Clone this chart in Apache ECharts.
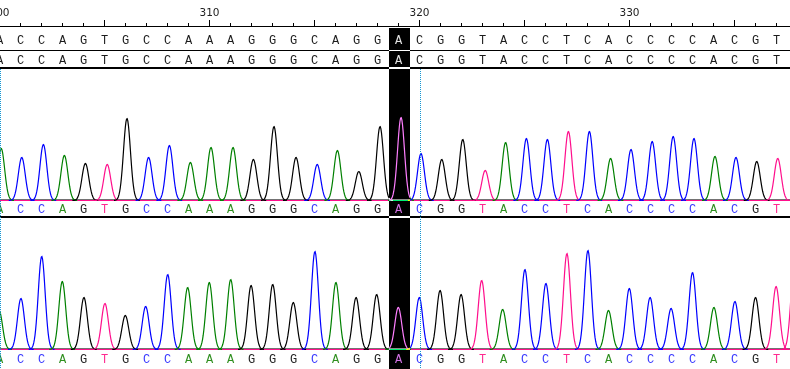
<!DOCTYPE html>
<html>
<head>
<meta charset="utf-8">
<script src="https://cdn.jsdelivr.net/npm/echarts@6/dist/echarts.min.js"></script>
<style>
html,body{margin:0;padding:0;background:#ffffff;}
#chart{width:790px;height:369px;}
</style>
</head>
<body>
<div id="chart"></div>
<script>
// ---------------- DATA ----------------
const basePositions = [300,301,302,303,304,305,306,307,308,309,310,311,312,313,314,315,316,317,318,319,320,321,322,323,324,325,326,327,328,329,330,331,332,333,334,335,336,337,338];
const bases = ['A','C','C','A','G','T','G','C','C','A','A','A','G','G','G','C','A','G','G','A','C','G','G','T','A','C','C','T','C','A','C','C','C','C','A','C','G','T','T'];

// upper trace (peak centre in base units, peak height)
const peakPos1 = [300.08,301.06,302.09,303.09,304.09,305.13,306.07,307.10,308.09,309.09,310.07,311.12,312.09,313.07,314.12,315.13,316.09,317.11,318.12,319.12,320.07,321.06,322.06,323.13,324.10,325.09,326.09,327.09,328.09,329.10,330.07,331.08,332.08,333.07,334.07,335.07,336.06,337.06,338.06];
const peakHeight1 = [52,43,56,45,37,36,82,43,55,38,53,53,41,74,43,36,50,29,74,83,47,41,61,30,58,62,61,69,69,42,51,59,64,62,44,43,39,42,0];

// lower trace
const peakPos2 = [299.98,301.02,302.01,302.99,304.02,305.02,305.99,306.96,308.01,308.96,309.99,311.01,311.98,313.01,313.99,315.02,316.02,316.98,317.96,318.99,319.99,320.98,321.98,322.96,323.96,325.02,326.02,327.02,328.02,329.00,329.99,330.98,331.98,333.00,334.02,335.02,336.00,336.98,337.85];
const peakHeight2 = [39,51,93,68,52,46,34,43,75,62,67,70,64,65,47,98,67,52,55,42,52,59,55,69,40,80,66,96,99,39,61,52,41,77,42,48,52,63,85];

const highlightPositions = [319];
const cursorPositions = [300, 320];

// ---------------- STYLE ----------------
const traceColor = {A:'#008000', C:'#0000ff', G:'#000000', T:'#ff0f8c'};
const letterColor = {A:'#2f8f1f', C:'#3a3aff', G:'#222222', T:'#ff2a90'};
const topLetterColor = '#1c1c1c';
const SIG = 0.165;
const LETTER_FONT = '12px "Liberation Mono"';
const ROW_Y = [40.5, 60.5, 210, 360];
const COL_TOP = 28, COL_BOTTOM = 369;
const H_LINES = [[50,1],[67,2],[216,2]];

function invert(hex) {
  const n = parseInt(hex.slice(1), 16);
  const r = 255 - ((n >> 16) & 255), g = 255 - ((n >> 8) & 255), b = 255 - (n & 255);
  return 'rgb(' + r + ',' + g + ',' + b + ')';
}

const chart = echarts.init(document.getElementById('chart'), null, {renderer:'canvas', width:790, height:369});

const gridBase = {left:-0.5, width:798, containLabel:false, outerBoundsMode:'none'};

function colBounds(api) {
  const p = highlightPositions[0];
  return [api.coord([p - 0.5, 0])[0] + 1, api.coord([p + 0.5, 0])[0] + 1];
}

function peakPoints(api, p, h) {
  const pts = [];
  for (let t = -0.62; t <= 0.6201; t += 0.03) {
    const v = h * Math.exp(-0.5 * (t / SIG) * (t / SIG));
    pts.push(api.coord([p + t, v]));
  }
  return pts;
}

function peakRender(params, api) {
  const i = params.dataIndex;
  const p = api.value(0), h = api.value(1);
  if (!(h > 0)) return null;
  return {
    type:'polyline',
    shape:{points:peakPoints(api, p, h)},
    style:{stroke: traceColor[bases[i]], lineWidth:1.2, fill:null}
  };
}

function invertedPeakRender(params, api) {
  const i = params.dataIndex;
  const p = api.value(0), h = api.value(1);
  if (!(h > 0)) return null;
  const cb = colBounds(api);
  const pts = peakPoints(api, p, h).filter(function(pt){ return pt[0] >= cb[0] - 0.3 && pt[0] <= cb[1] + 0.3; });
  if (pts.length < 2) return null;
  return {
    type:'polyline',
    shape:{points:pts},
    style:{stroke: invert(traceColor[bases[i]]), lineWidth:1.2, fill:null}
  };
}

function baselineRender(params, api) {
  const a0 = api.coord([299, 1]), a1 = api.coord([339, 1]);
  const b0 = api.coord([299, 0]), b1 = api.coord([339, 0]);
  return {
    type:'group',
    children:[
      {type:'line', shape:{x1:a0[0], y1:a0[1], x2:a1[0], y2:a1[1]}, style:{stroke:'#000000', lineWidth:1, opacity:0.55}},
      {type:'line', shape:{x1:b0[0], y1:b0[1], x2:b1[0], y2:b1[1]}, style:{stroke:traceColor.T, lineWidth:1}}
    ]
  };
}

function invertedBaselineRender(params, api) {
  const cb = colBounds(api);
  const ya = api.coord([300, 1])[1], yb = api.coord([300, 0])[1];
  return {
    type:'group',
    children:[
      {type:'line', z2:1, shape:{x1:cb[0], y1:ya, x2:cb[1], y2:ya}, style:{stroke:'#ffffff', lineWidth:1, opacity:0.55}},
      {type:'line', z2:2, shape:{x1:cb[0], y1:yb, x2:cb[1], y2:yb}, style:{stroke:invert(traceColor.T), lineWidth:1}}
    ]
  };
}

function letterEls(x, b, inv) {
  const cols = [topLetterColor, topLetterColor, letterColor[b], letterColor[b]];
  return ROW_Y.map(function(y, k){
    return {type:'text', z2:5, x:x, y:y, style:{text:b, fill: inv ? invert(cols[k]) : cols[k], font:LETTER_FONT, align:'center', verticalAlign:'middle'}};
  });
}

const option = {
  backgroundColor:'#ffffff',
  animation:false,
  grid:[
    Object.assign({top:26, height:343}, gridBase),
    Object.assign({top:69, height:131.5}, gridBase),
    Object.assign({top:219, height:130.5}, gridBase)
  ],
  xAxis:[
    {
      gridIndex:0, type:'value', position:'top', min:300, max:338, interval:5,
      axisLine:{show:true, lineStyle:{color:'#000000', width:1}},
      axisTick:{show:true, length:6, lineStyle:{color:'#000000', width:1}},
      minorTick:{show:true, splitNumber:5, length:3, lineStyle:{color:'#000000', width:1}},
      axisLabel:{show:true, margin:7, color:'#222222', fontFamily:'DejaVu Sans', fontSize:10.5,
        showMinLabel:true, showMaxLabel:false, hideOverlap:false,
        formatter:function(v){ return (Math.round(v) % 10 === 0) ? String(Math.round(v)) : ''; }},
      splitLine:{show:false}, minorSplitLine:{show:false}
    },
    {gridIndex:1, type:'value', min:300, max:338, show:false, splitLine:{show:false}},
    {gridIndex:2, type:'value', min:300, max:338, show:false, splitLine:{show:false}}
  ],
  yAxis:[
    {gridIndex:0, type:'value', min:0, max:343, inverse:true, show:false, splitLine:{show:false}},
    {gridIndex:1, type:'value', min:0, max:131.5, show:false, splitLine:{show:false}},
    {gridIndex:2, type:'value', min:0, max:130.5, show:false, splitLine:{show:false}}
  ],
  graphic:H_LINES.map(function(l){
    return {type:'rect', z:1, shape:{x:0, y:l[0], width:790, height:l[1]}, style:{fill:'#000000'}};
  }),
  series:[
    // base letters (two rows on top + one under each trace)
    {
      type:'custom', xAxisIndex:0, yAxisIndex:0, z:3, silent:true,
      data: basePositions.map(function(p){ return [p, 0]; }),
      renderItem:function(params, api){
        const b = bases[params.dataIndex];
        const x = api.coord([api.value(0), 0])[0];
        return {type:'group', children:letterEls(x, b, false)};
      }
    },
    // baselines
    {type:'custom', xAxisIndex:1, yAxisIndex:1, z:3, silent:true, data:[[0,0]], renderItem:baselineRender},
    {type:'custom', xAxisIndex:2, yAxisIndex:2, z:3, silent:true, data:[[0,0]], renderItem:baselineRender},
    // traces
    {
      type:'custom', xAxisIndex:1, yAxisIndex:1, z:4, silent:true, clip:false,
      data: peakPos1.map(function(p, i){ return [p, peakHeight1[i]]; }),
      renderItem: peakRender
    },
    {
      type:'custom', xAxisIndex:2, yAxisIndex:2, z:4, silent:true, clip:false,
      data: peakPos2.map(function(p, i){ return [p, peakHeight2[i]]; }),
      renderItem: peakRender
    },
    // cursor dotted lines
    {
      type:'custom', xAxisIndex:0, yAxisIndex:0, z:5, silent:true,
      data: cursorPositions.map(function(p){ return [p, 0]; }),
      renderItem:function(params, api){
        const x = api.coord([api.value(0), 0])[0] + 1;
        return {type:'line', shape:{x1:x, y1:69, x2:x, y2:369}, style:{stroke:'#1596d2', lineWidth:1, lineDash:[1,1]}};
      }
    },
    // highlighted base column (black, with inverted separators and letters)
    {
      type:'custom', xAxisIndex:0, yAxisIndex:0, z:100, silent:true,
      data: highlightPositions.map(function(p){ return [p, 0]; }),
      renderItem:function(params, api){
        const p = api.value(0);
        const cb = colBounds(api);
        const idx = basePositions.indexOf(p);
        const children = [
          {type:'rect', z2:0, shape:{x:cb[0], y:COL_TOP, width:cb[1] - cb[0], height:COL_BOTTOM - COL_TOP}, style:{fill:'#000000'}}
        ];
        H_LINES.forEach(function(l){
          children.push({type:'rect', z2:1, shape:{x:cb[0], y:l[0], width:cb[1] - cb[0], height:l[1]}, style:{fill:'#ffffff'}});
        });
        const x = api.coord([p, 0])[0];
        return {type:'group', children: children.concat(letterEls(x, bases[idx], true))};
      }
    },
    // inverted baselines and traces inside highlight column
    {type:'custom', xAxisIndex:1, yAxisIndex:1, z:101, silent:true, data:[[0,0]], renderItem:invertedBaselineRender},
    {type:'custom', xAxisIndex:2, yAxisIndex:2, z:101, silent:true, data:[[0,0]], renderItem:invertedBaselineRender},
    {
      type:'custom', xAxisIndex:1, yAxisIndex:1, z:102, silent:true, clip:false,
      data: peakPos1.map(function(p, i){ return [p, peakHeight1[i]]; }),
      renderItem: invertedPeakRender
    },
    {
      type:'custom', xAxisIndex:2, yAxisIndex:2, z:102, silent:true, clip:false,
      data: peakPos2.map(function(p, i){ return [p, peakHeight2[i]]; }),
      renderItem: invertedPeakRender
    }
  ]
};
chart.setOption(option);
</script>
</body>
</html>
